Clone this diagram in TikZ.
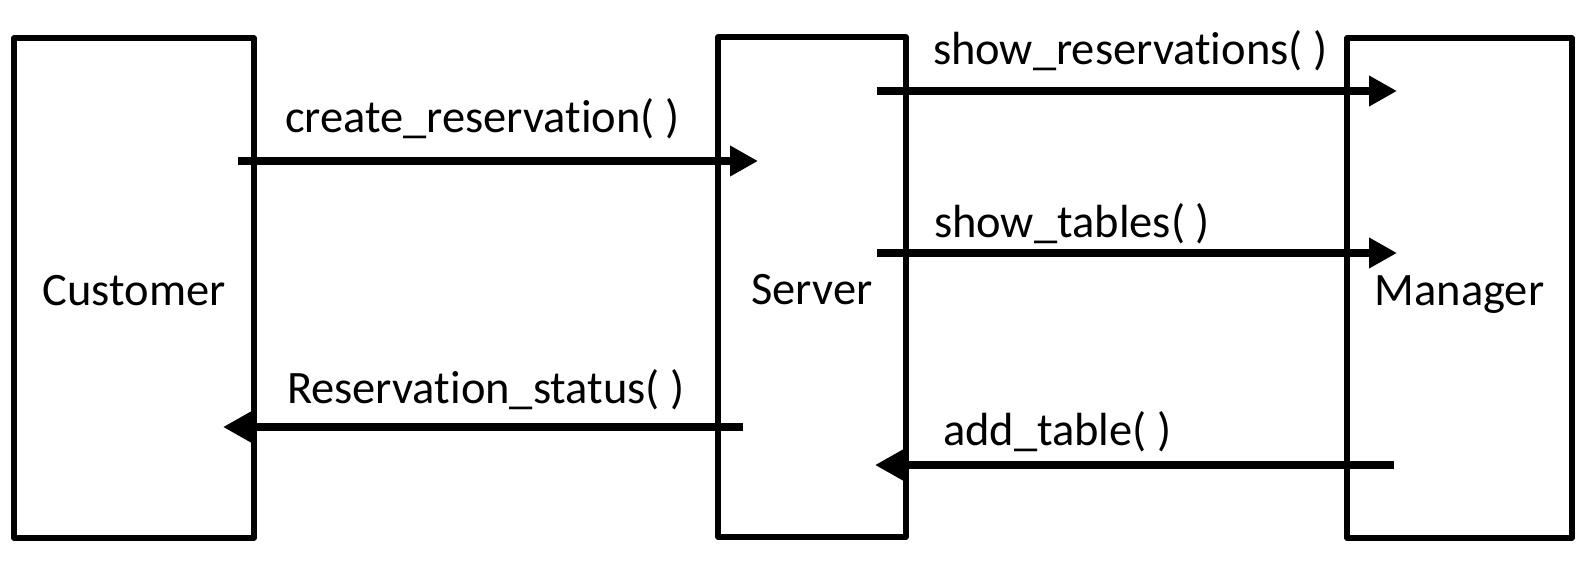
\documentclass[tikz,border=0pt]{standalone}
\usepackage{fontspec}
\setmainfont{Carlito}[Ligatures={NoCommon}]
\usetikzlibrary{arrows.meta}
\begin{document}
\begin{tikzpicture}[x=1pt,y=-1pt,
  actor/.style={draw=black, line width=5.3pt, line join=round, rectangle,
    inner sep=0pt, outer sep=0pt, minimum height=500pt,
    text height=34pt, text depth=0pt,
    font=\fontsize{46.5}{56}\selectfont},
  msg/.style={line width=8pt, line cap=butt, -{Triangle[length=28pt,width=29pt]}},
  lbl/.style={anchor=base west, inner sep=0pt, outer sep=0pt,
    font=\fontsize{46.5}{56}\selectfont}]
\useasboundingbox (0,0) rectangle (1590,586);
% boxes
\node[actor, minimum width=240pt] (cust) at (134,288) {Customer};
\node[actor, minimum width=188pt] (serv) at (812,287) {Server};
\node[actor, minimum width=225pt] (mgr) at (1459.5,288) {Manager};
% arrow end points
\coordinate (c1s) at (238,161);
\coordinate (c1e) at (758,161);
\coordinate (s1s) at (877,91);
\coordinate (s1e) at (1397,91);
\coordinate (s2s) at (877,253);
\coordinate (s2e) at (1397,253);
\coordinate (r1s) at (743,427);
\coordinate (r1e) at (223,427);
\coordinate (a1s) at (1394,465);
\coordinate (a1e) at (875,465);
% arrows
\draw[msg] (c1s) -- (c1e);
\draw[msg] (s1s) -- (s1e);
\draw[msg] (s2s) -- (s2e);
\draw[msg] (r1s) -- (r1e);
\draw[msg] (a1s) -- (a1e);
% labels
\node[lbl] (l1) at (285,132) {create\_reservation( )};
\node[lbl] (l2) at (933,65) {show\_reservations( )};
\node[lbl] (l3) at (934,237) {show\_tables( )};
\node[lbl] (l4) at (287,403) {Reservation\_status( )};
\node[lbl] (l5) at (943,445) {add\_table( )};
\end{tikzpicture}
\end{document}
